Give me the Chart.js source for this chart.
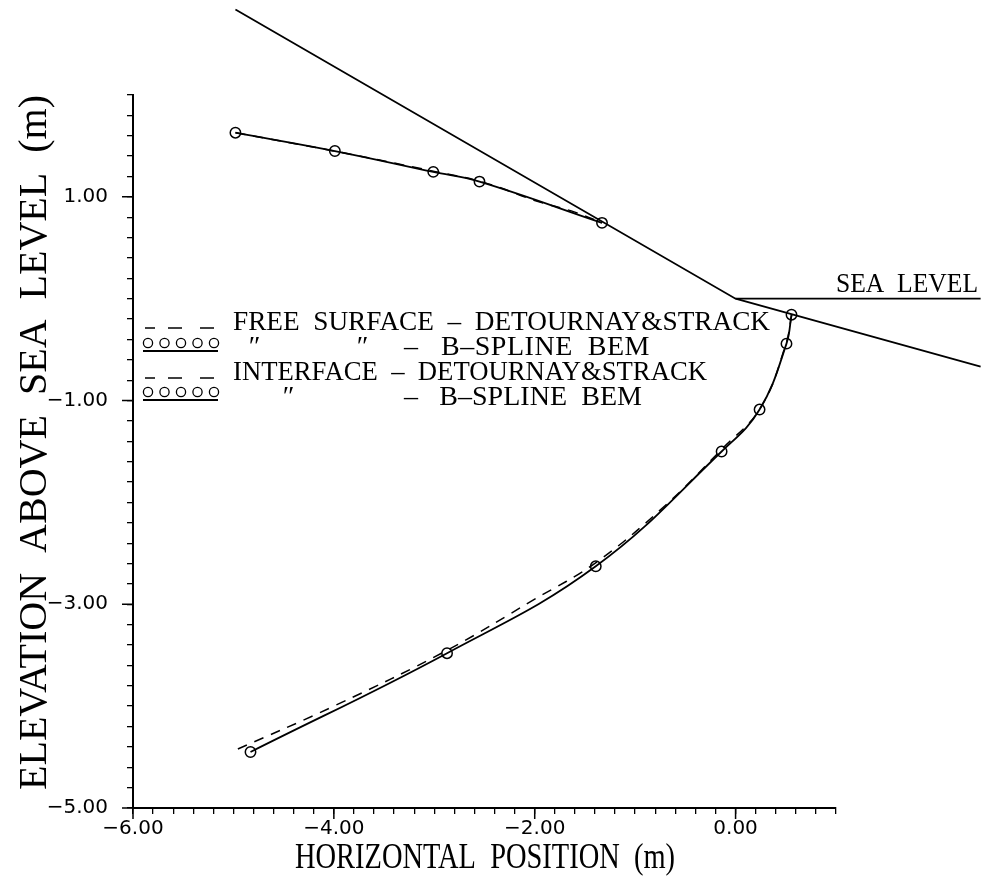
<!DOCTYPE html>
<html lang="en">
  <head>
    <meta charset="UTF-8" />
    <title>Free surface and interface</title>
    <script src="https://cdn.jsdelivr.net/npm/chart.js"></script>
    <style>
      body { margin: 0; background: #fff; }
    </style>
  </head>
  <body>
    <canvas id="plot" width="981" height="878"></canvas>

    <script>
      // beach slope and sea level
      const beachX = [-4.98, 0.0, 2.44];
      const beachY = [2.84, 0.0, -0.667];
      const seaX = [0.0, 2.44];
      const seaY = [0.0, 0.0];

      // free surface
      const freeBemX = [-4.98, -3.99, -3.01, -2.55, -1.33];
      const freeBemY = [1.63, 1.45, 1.245, 1.15, 0.745];
      const freeDsX = [-4.98, -4.0, -3.0, -2.5, -2.0, -1.6, -1.33];
      const freeDsY = [1.63, 1.45, 1.25, 1.14, 0.965, 0.85, 0.745];

      // interface
      const intBemX = [0.557, 0.507, 0.239, -0.139, -1.392, -2.873, -4.83];
      const intBemY = [-0.157, -0.441, -1.088, -1.5, -2.627, -3.48, -4.45];
      const intDsX = [0.56, 0.5, 0.25, -0.14, -0.7, -1.39, -2.0, -2.87, -4.0, -5.0];
      const intDsY = [-0.155, -0.45, -1.07, -1.48, -2.03, -2.59, -2.95, -3.45, -4.0, -4.44];

      const xTicksLabelled = [-6, -4, -2, 0];
      const yTicksLabelled = [1, -1, -3, -5];

      const pts = (xs, ys) => xs.map((x, i) => ({ x: x, y: ys[i] }));
      const fmt = (v) => (v < -1e-9 ? "\u2212" : "") + Math.abs(v).toFixed(2);
      const isLab = (v, list) => list.some((t) => Math.abs(t - v) < 1e-6);

      const serif = '"Liberation Serif", "Times New Roman", serif';

      // stretch or squeeze a string to span a given width
      function fitText(ctx, str, x, y, size, width) {
        ctx.font = size + "px " + serif;
        ctx.letterSpacing = "0px";
        const w = ctx.measureText(str).width;
        if (w < width && "letterSpacing" in ctx) {
          ctx.letterSpacing = (width - w) / str.length + "px";
          ctx.fillText(str, x, y);
          ctx.letterSpacing = "0px";
        } else {
          ctx.save();
          ctx.translate(x, y);
          ctx.scale(width / w, 1);
          ctx.fillText(str, 0, 0);
          ctx.restore();
        }
      }

      const extras = {
        id: "extras",
        afterDraw(chart) {
          const ctx = chart.ctx;
          const xs = chart.scales.x;
          const ys = chart.scales.y;
          ctx.save();
          ctx.strokeStyle = "#000";
          ctx.fillStyle = "#000";
          ctx.lineWidth = 1.5;

          // longer major ticks
          ctx.beginPath();
          xTicksLabelled.forEach((v) => {
            const px = xs.getPixelForValue(v);
            ctx.moveTo(px, xs.top);
            ctx.lineTo(px, xs.top + 11);
          });
          yTicksLabelled.forEach((v) => {
            const py = ys.getPixelForValue(v);
            ctx.moveTo(ys.right, py);
            ctx.lineTo(ys.right - 11, py);
          });
          ctx.stroke();

          ctx.textAlign = "left";
          ctx.textBaseline = "alphabetic";

          // axis titles
          fitText(ctx, "HORIZONTAL  POSITION  (m)", 295, 868, 35, 380);
          ctx.save();
          ctx.translate(46, 790);
          ctx.rotate(-Math.PI / 2);
          fitText(ctx, "ELEVATION  ABOVE  SEA  LEVEL  (m)", 0, 0, 41, 695);
          ctx.restore();

          // sea level label
          fitText(ctx, "SEA  LEVEL", 836, 292, 27, 142);

          // legend
          ctx.lineWidth = 1.5;
          [328, 378].forEach((yy) => {
            ctx.beginPath();
            [[145, 155], [168, 182], [200, 214]].forEach((d) => {
              ctx.moveTo(d[0], yy);
              ctx.lineTo(d[1], yy);
            });
            ctx.stroke();
          });
          [343, 392].forEach((yy) => {
            ctx.lineWidth = 1.3;
            [148, 164.5, 181, 197.5, 214].forEach((cx) => {
              ctx.beginPath();
              ctx.arc(cx, yy, 4.6, 0, Math.PI * 2);
              ctx.stroke();
            });
            ctx.lineWidth = 1.8;
            ctx.beginPath();
            ctx.moveTo(143, yy + 8);
            ctx.lineTo(218, yy + 8);
            ctx.stroke();
          });

          fitText(ctx, "FREE  SURFACE  \u2013  DETOURNAY&STRACK", 233, 330, 28, 537);
          ctx.font = "italic 28px " + serif;
          ctx.fillText("\u2033", 247, 355);
          ctx.fillText("\u2033", 355, 355);
          fitText(ctx, "\u2013   B\u2013SPLINE  BEM", 404, 355, 28, 246);
          fitText(ctx, "INTERFACE  \u2013  DETOURNAY&STRACK", 233, 380, 28, 474);
          ctx.font = "italic 28px " + serif;
          ctx.fillText("\u2033", 281, 405);
          fitText(ctx, "\u2013   B\u2013SPLINE  BEM", 404, 405, 28, 238);

          ctx.restore();
        },
      };

      const solid = { borderColor: "#000", borderWidth: 1.8, pointRadius: 0, showLine: true, fill: false };
      const dashed = { borderColor: "#000", borderWidth: 1.5, borderDash: [10, 8], pointRadius: 0, showLine: true, fill: false, tension: 0.4 };
      const bem = {
        borderColor: "#000",
        borderWidth: 1.8,
        showLine: true,
        fill: false,
        tension: 0.4,
        pointRadius: 5.2,
        pointBorderWidth: 1.5,
        pointBorderColor: "#000",
        pointBackgroundColor: "rgba(0,0,0,0)",
      };

      const axisFont = { family: '"DejaVu Sans", sans-serif', size: 20 };

      new Chart(document.getElementById("plot").getContext("2d"), {
        type: "scatter",
        data: {
          datasets: [
            { ...solid, label: "Beach", data: pts(beachX, beachY), clip: false },
            { ...solid, label: "Sea level", data: pts(seaX, seaY), clip: false },
            { ...dashed, label: "Free surface - Detournay&Strack", data: pts(freeDsX, freeDsY) },
            { ...bem, label: "Free surface - B-spline BEM", data: pts(freeBemX, freeBemY) },
            { ...dashed, label: "Interface - Detournay&Strack", data: pts(intDsX, intDsY) },
            { ...bem, label: "Interface - B-spline BEM", data: pts(intBemX, intBemY) },
          ],
        },
        options: {
          responsive: false,
          animation: false,
          layout: { padding: { top: 95, right: 145, left: 0, bottom: 0 } },
          plugins: {
            legend: { display: false },
            tooltip: { enabled: false },
          },
          scales: {
            x: {
              type: "linear",
              position: "bottom",
              min: -6,
              max: 1,
              afterFit: (s) => { s.height = 70; },
              border: { color: "#000", width: 2 },
              grid: { drawOnChartArea: false, tickLength: 6, color: "#000", lineWidth: 1.3 },
              ticks: {
                stepSize: 0.2,
                autoSkip: false,
                maxRotation: 0,
                padding: 3,
                color: "#000",
                font: axisFont,
                callback: (v) => (isLab(v, xTicksLabelled) ? fmt(v) : ""),
              },
            },
            y: {
              type: "linear",
              min: -5,
              max: 2,
              afterFit: (s) => { s.width = 133; },
              border: { color: "#000", width: 2 },
              grid: { drawOnChartArea: false, tickLength: 6, color: "#000", lineWidth: 1.3 },
              ticks: {
                stepSize: 0.2,
                autoSkip: false,
                padding: 19,
                color: "#000",
                font: axisFont,
                callback: (v) => (isLab(v, yTicksLabelled) ? fmt(v) : ""),
              },
            },
          },
        },
        plugins: [extras],
      });
    </script>
  </body>
</html>
